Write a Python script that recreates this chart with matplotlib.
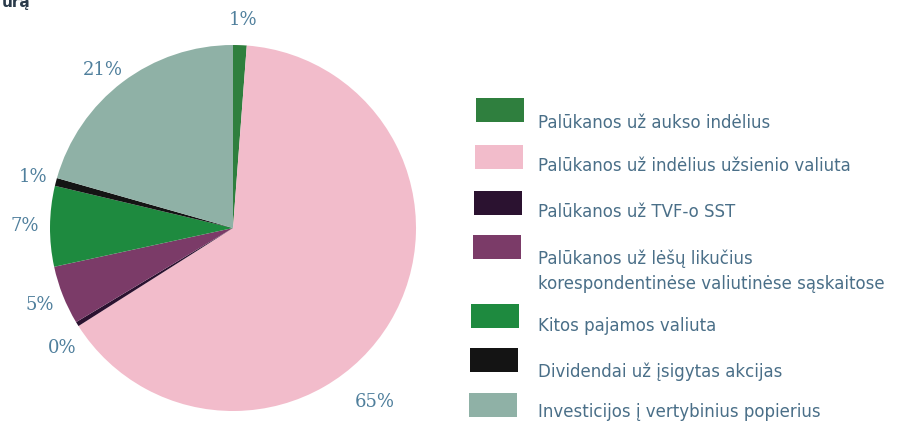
import matplotlib
matplotlib.use("Agg")
import matplotlib.pyplot as plt
from matplotlib.patches import Rectangle

categories = [
    "Palūkanos už aukso indėlius",
    "Palūkanos už indėlius užsienio valiuta",
    "Palūkanos už TVF-o SST",
    "Palūkanos už lėšų likučius\nkorespondentinėse valiutinėse sąskaitose",
    "Kitos pajamos valiuta",
    "Dividendai už įsigytas akcijas",
    "Investicijos į vertybinius popierius",
]
values = [1.2, 64.8, 0.4, 5.2, 7.1, 0.7, 20.6]
colors = ["#2f7f3e", "#f2bccb", "#2b1230", "#7b3b68", "#1e8a3f", "#141414", "#8fb1a6"]
pct_labels = [f"{int(v + 0.5)}%" for v in values]

W, H = 910, 428
fig = plt.figure(figsize=(W / 100, H / 100), dpi=100)
fig.patch.set_facecolor("white")

cx, cy, r = 233, 228, 183
ax = fig.add_axes([(cx - r) / W, (H - cy - r) / H, 2 * r / W, 2 * r / H])
wedges, _ = ax.pie(values, colors=colors, startangle=90, counterclock=False,
                   wedgeprops=dict(linewidth=0))
ax.set_aspect("equal")
ax.set_xlim(-1, 1)
ax.set_ylim(-1, 1)

label_color = "#4f7f9c"
label_pos = [(243, 20), (375, 402), (62, 348), (40, 305), (25, 226), (33, 177), (103, 70)]
for (x, y), t in zip(label_pos, pct_labels):
    fig.text(x / W, 1 - y / H, t, color=label_color, fontsize=13,
             family="DejaVu Serif", ha="center", va="center")

# title fragment at top-left (cropped in the reference)
fig.text(2 / W, 1 - 3 / H, "ūrą", color="#2a3a4a", fontsize=11, fontweight="bold",
         ha="left", va="center")

# legend
text_color = "#4a6f88"
box_top = [98, 145, 191, 235, 304, 348, 393]
box_x = [476, 475, 474, 473, 471, 470, 469]
text_y = [123, 166, 212, 259, 326, 372, 412]
for i, (cat, col) in enumerate(zip(categories, colors)):
    by = box_top[i]
    fig.patches.append(Rectangle((box_x[i] / W, 1 - (by + 24) / H), 48 / W, 24 / H,
                                 transform=fig.transFigure, facecolor=col,
                                 edgecolor="none"))
    va = "top" if i == 3 else "center"
    ty = text_y[i] - 9 if i == 3 else text_y[i]
    fig.text(538 / W, 1 - ty / H, cat, color=text_color, fontsize=12,
             ha="left", va=va, linespacing=1.45)

fig.savefig("out.png", dpi=100, facecolor="white")
